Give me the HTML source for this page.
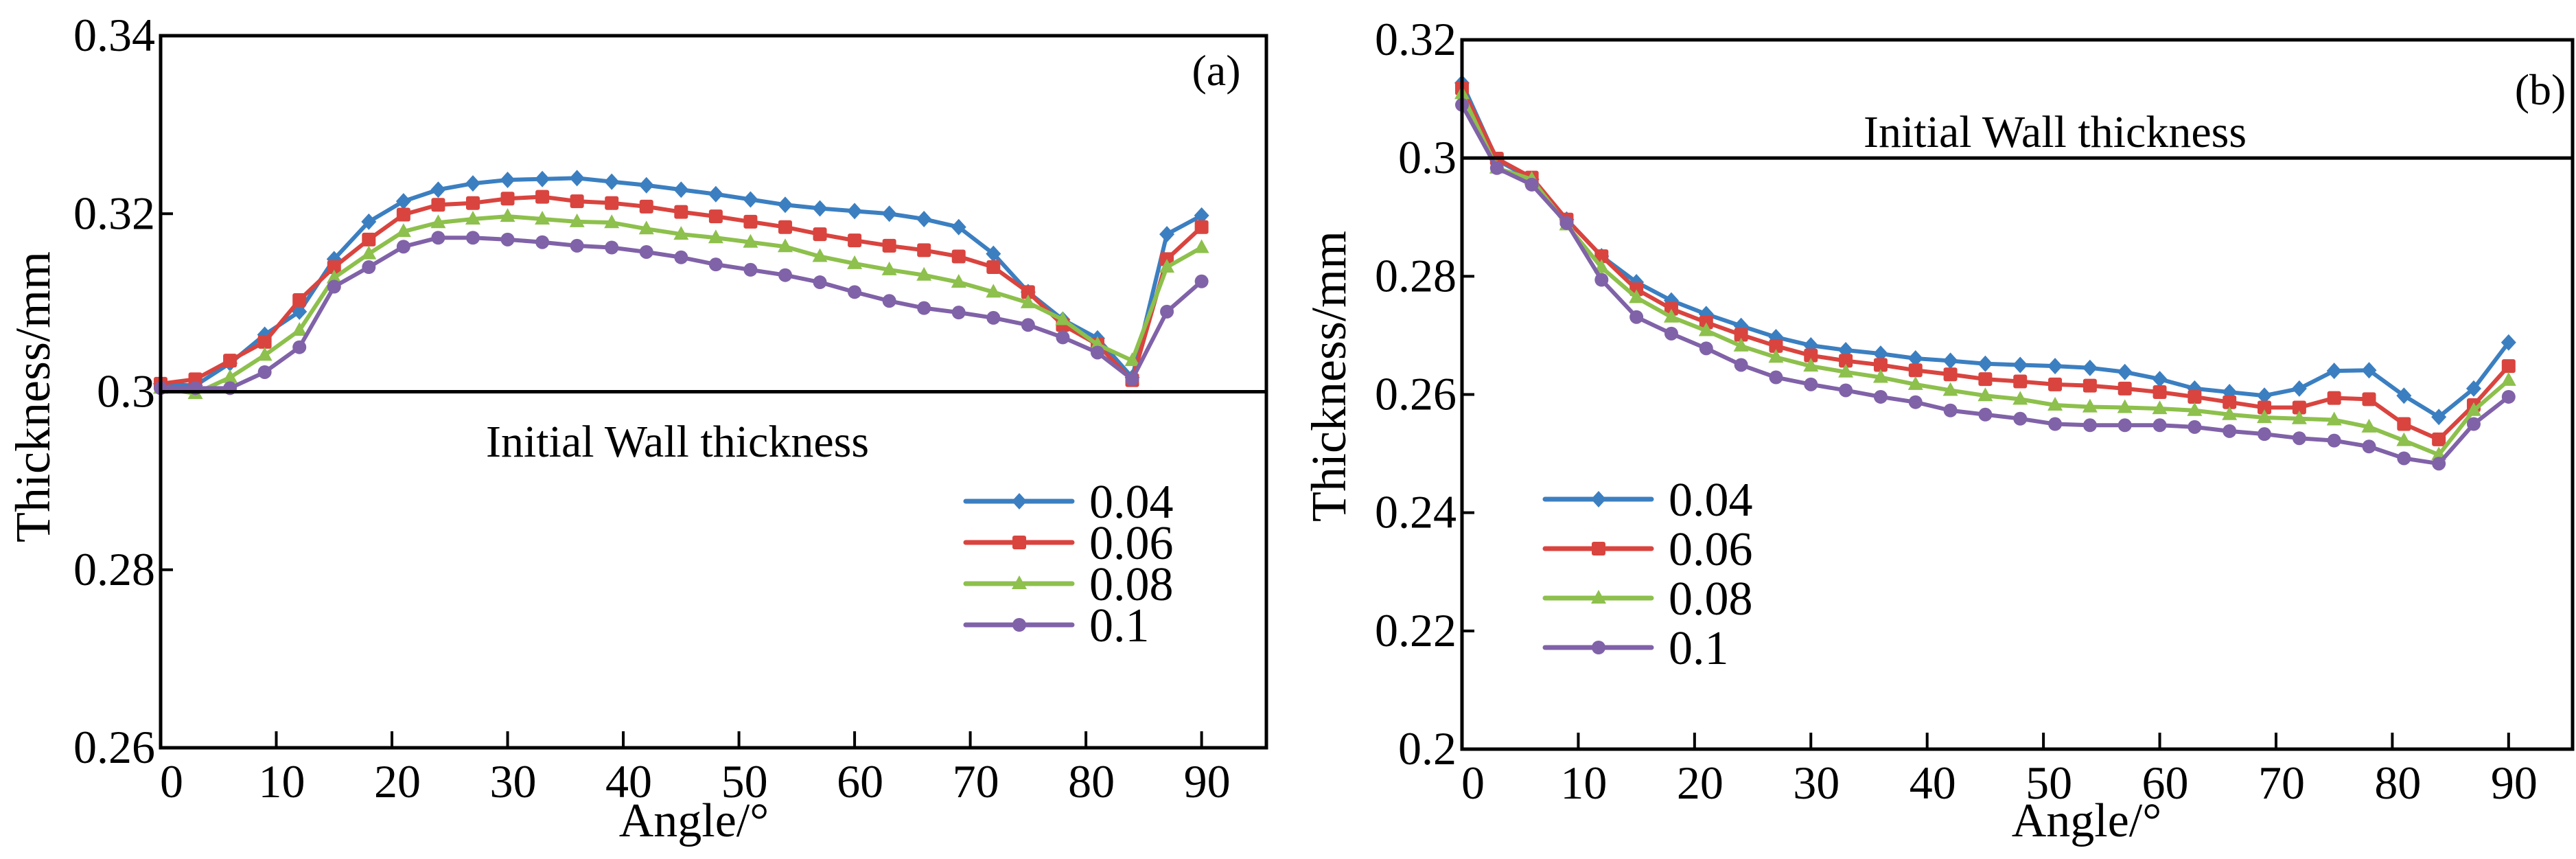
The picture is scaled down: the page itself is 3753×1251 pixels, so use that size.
<!DOCTYPE html>
<html><head><meta charset="utf-8"><style>
html,body{margin:0;padding:0;background:#fff;}
svg{display:block;font-family:"Liberation Serif",serif;}
</style></head><body>
<svg id="chart" width="3753" height="1251" viewBox="0 0 3753 1251" xmlns="http://www.w3.org/2000/svg"></svg>
<script>
const angles = [0,3,6,9,12,15,18,21,24,27,30,33,36,39,42,45,48,51,54,57,60,63,66,69,72,75,78,81,84,87,90];
const seriesNames = ["0.04","0.06","0.08","0.1"];
const a004 = [0.3009,0.3007,0.3032,0.3064,0.3090,0.3149,0.3191,0.3214,0.3227,0.3234,0.3238,0.3239,0.3240,0.3236,0.3232,0.3227,0.3222,0.3216,0.3210,0.3206,0.3203,0.3200,0.3194,0.3185,0.3155,0.3112,0.3081,0.3060,0.3016,0.3177,0.3198];
const a006 = [0.3009,0.3014,0.3035,0.3056,0.3103,0.3140,0.3171,0.3199,0.3210,0.3212,0.3217,0.3219,0.3214,0.3212,0.3208,0.3202,0.3197,0.3191,0.3185,0.3177,0.3170,0.3164,0.3159,0.3152,0.3140,0.3112,0.3075,0.3053,0.3013,0.3149,0.3185];
const a008 = [0.3004,0.2998,0.3016,0.3041,0.3069,0.3128,0.3155,0.3180,0.3190,0.3194,0.3197,0.3194,0.3191,0.3190,0.3183,0.3177,0.3173,0.3168,0.3163,0.3152,0.3144,0.3137,0.3131,0.3123,0.3112,0.3100,0.3081,0.3053,0.3035,0.3140,0.3162];
const a010 = [0.3004,0.3004,0.3004,0.3022,0.3050,0.3118,0.3140,0.3163,0.3173,0.3173,0.3171,0.3168,0.3164,0.3162,0.3157,0.3151,0.3143,0.3137,0.3131,0.3123,0.3112,0.3102,0.3094,0.3089,0.3083,0.3075,0.3061,0.3044,0.3014,0.3090,0.3124];
const b004 = [0.3127,0.2997,0.2964,0.2896,0.2834,0.2790,0.2759,0.2736,0.2716,0.2697,0.2683,0.2675,0.2669,0.2661,0.2657,0.2652,0.2650,0.2648,0.2645,0.2638,0.2626,0.2610,0.2604,0.2598,0.2610,0.2640,0.2641,0.2598,0.2562,0.2610,0.2688];
const b006 = [0.3118,0.2999,0.2967,0.2896,0.2834,0.2778,0.2745,0.2722,0.2701,0.2682,0.2666,0.2657,0.2650,0.2641,0.2634,0.2626,0.2622,0.2617,0.2615,0.2610,0.2604,0.2596,0.2587,0.2578,0.2578,0.2594,0.2592,0.2550,0.2524,0.2582,0.2648];
const b008 = [0.3109,0.2983,0.2964,0.2887,0.2815,0.2764,0.2731,0.2708,0.2682,0.2663,0.2648,0.2638,0.2629,0.2617,0.2607,0.2598,0.2592,0.2582,0.2579,0.2578,0.2576,0.2573,0.2566,0.2561,0.2559,0.2557,0.2545,0.2522,0.2498,0.2573,0.2624];
const b010 = [0.3090,0.2983,0.2955,0.2890,0.2794,0.2731,0.2703,0.2678,0.2650,0.2629,0.2617,0.2607,0.2596,0.2587,0.2573,0.2566,0.2559,0.2550,0.2548,0.2548,0.2548,0.2545,0.2538,0.2533,0.2526,0.2522,0.2512,0.2492,0.2483,0.2550,0.2596];
const xTicks = [0,10,20,30,40,50,60,70,80,90];
const yTicksA = [0.26,0.28,0.3,0.32,0.34];
const yTickLabelsA = ["0.26","0.28","0.3","0.32","0.34"];
const yTicksB = [0.2,0.22,0.24,0.26,0.28,0.3,0.32];
const yTickLabelsB = ["0.2","0.22","0.24","0.26","0.28","0.3","0.32"];
const initialThickness = 0.3;

const colors = ["#3b7fc1","#d9443f","#8dc04c","#8062a8"];
const markers = ["diamond","square","triangle","circle"];
const NS = "http://www.w3.org/2000/svg";
const svg = document.getElementById("chart");
function mk(tag, attrs, parent){const e=document.createElementNS(NS,tag);for(const k in attrs)e.setAttribute(k,attrs[k]);(parent||svg).appendChild(e);return e;}
function marker(g,type,x,y,c){
  let e;
  if(type==="diamond") e=mk("polygon",{points:`${x},${y-12} ${x+11},${y} ${x},${y+12} ${x-11},${y}`,fill:c},g);
  else if(type==="square") e=mk("rect",{x:x-10,y:y-10,width:20,height:20,rx:3,fill:c},g);
  else if(type==="triangle") e=mk("polygon",{points:`${x},${y-12} ${x+11},${y+8} ${x-11},${y+8}`,fill:c},g);
  else e=mk("circle",{cx:x,cy:y,r:10,fill:c},g);
  return e;
}
function panel(cfg){
  const g=mk("g",{});
  
  
  const X=v=>cfg.L+(v-cfg.xmin)/(cfg.xmax-cfg.xmin)*(cfg.R-cfg.L);
  const Y=v=>cfg.B-(v-cfg.ymin)/(cfg.ymax-cfg.ymin)*(cfg.B-cfg.T);
  // series
  cfg.series.forEach((vals,si)=>{
    const sg=mk("g",{},g);
    
    
    const pts=angles.map((a,i)=>X(a)+","+Y(vals[i])).join(" ");
    const pl=mk("polyline",{points:pts,fill:"none",stroke:colors[si],"stroke-width":6,"stroke-linejoin":"round"},sg);
    
    
    angles.forEach((a,i)=>{
      const m=marker(sg,markers[si],X(a),Y(vals[i]),colors[si]);
      
      
    });
  });
  // initial line
  const il=mk("line",{x1:cfg.L,x2:cfg.R,y1:Y(initialThickness),y2:Y(initialThickness),stroke:"#000","stroke-width":5},g);
  
  
  const it=mk("text",{x:cfg.itx,y:cfg.ity,"font-size":66,"text-anchor":"middle"},g);
  it.textContent="Initial Wall thickness";
  
  
  // frame
  const fr=mk("rect",{x:cfg.L,y:cfg.T,width:cfg.R-cfg.L,height:cfg.B-cfg.T,fill:"none",stroke:"#000","stroke-width":5},g);
  
  
  // x ticks
  xTicks.forEach(t=>{
    const tl=mk("line",{x1:X(t),x2:X(t),y1:cfg.B,y2:cfg.B-24,stroke:"#000","stroke-width":4},g);
    
    
    const tx=mk("text",{x:X(t)+(t===0?16:8),y:cfg.B+72,"font-size":68,"text-anchor":"middle"},g);
    tx.textContent=String(t);
    
    
  });
  cfg.yt.forEach((t,i)=>{
    const tl=mk("line",{x1:cfg.L,x2:cfg.L+18,y1:Y(t),y2:Y(t),stroke:"#000","stroke-width":4},g);
    
    
    const tx=mk("text",{x:cfg.L-8,y:Y(t)+22,"font-size":68,"text-anchor":"end"},g);
    tx.textContent=cfg.ytl[i];
    
    
  });
  const xt=mk("text",{x:cfg.xtx,y:1218,"font-size":70,"text-anchor":"middle"},g);
  xt.textContent="Angle/°";
  
  
  const yt=mk("text",{x:0,y:0,"font-size":72,"text-anchor":"middle",transform:`translate(${cfg.ytx},${cfg.yty}) rotate(-90)`},g);
  yt.textContent="Thickness/mm";
  
  
  const pl=mk("text",{x:cfg.plx,y:cfg.ply,"font-size":64,"text-anchor":"middle"},g);
  pl.textContent=cfg.label;
  
  
  // legend
  seriesNames.forEach((n,i)=>{
    const lg=mk("g",{},g);
    
    
    const y=cfg.legY+i*cfg.legDy;
    mk("line",{x1:cfg.legX,x2:cfg.legX+155,y1:y,y2:y,stroke:colors[i],"stroke-width":7,"stroke-linecap":"round"},lg);
    marker(lg,markers[i],cfg.legX+78,y,colors[i]);
    const t=mk("text",{x:cfg.legX+180,y:y+24,"font-size":70},lg);
    t.textContent=n;
  });
}
panel({name:"panel-a",L:234,R:1845,T:52,B:1089,xmin:0,xmax:95.6,ymin:0.26,ymax:0.34,
  series:[a004,a006,a008,a010],yt:yTicksA,ytl:yTickLabelsA,itx:987,ity:665,
  xtx:1011,ytx:72,yty:578,plx:1772,ply:124,label:"(a)",legX:1407,legY:730,legDy:60});
panel({name:"panel-b",L:2130,R:3748,T:58,B:1091,xmin:0,xmax:95.5,ymin:0.2,ymax:0.32,
  series:[b004,b006,b008,b010],yt:yTicksB,ytl:yTickLabelsB,itx:2994,ity:214,
  xtx:3040,ytx:1960,yty:548,plx:3701,ply:152,label:"(b)",legX:2251,legY:727,legDy:72});
</script>
</body></html>
